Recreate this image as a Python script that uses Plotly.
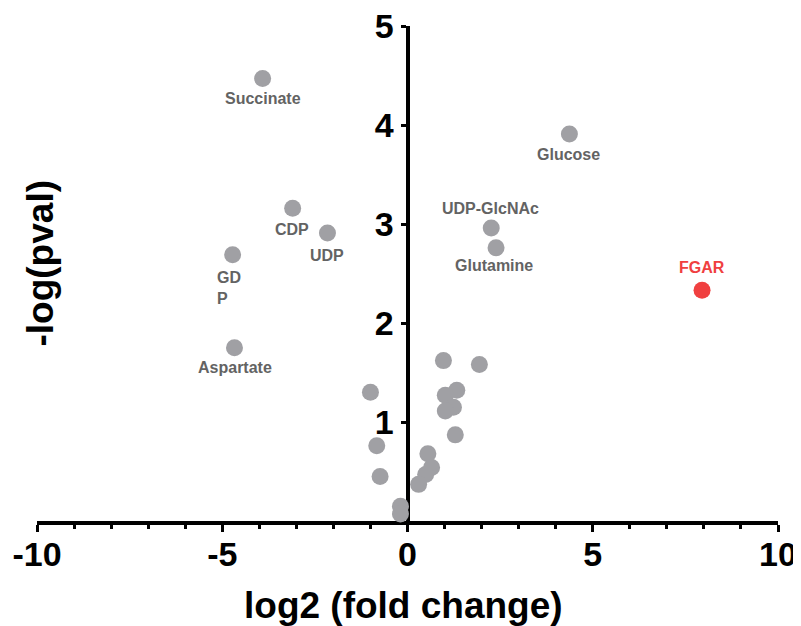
import plotly.graph_objects as go

# ---- data ----
label_names = ["Succinate", "Glucose", "CDP", "UDP", "GD<br>P",
               "UDP-GlcNAc", "Glutamine", "Aspartate", "FGAR"]
label_x = [-3.91, 4.37, -3.10, -2.16, -4.72, 2.26, 2.39, -4.67, 7.95]
label_y = [4.47, 3.91, 3.16, 2.91, 2.69, 2.96, 2.76, 1.75, 2.33]
highlight = ["FGAR"]

other_x = [-1.00, -0.83, -0.74, 0.97, 1.94, 1.33, 1.02, 1.24, 1.02, 1.29,
           0.55, 0.65, 0.49, 0.30, -0.19, -0.19]
other_y = [1.30, 0.76, 0.45, 1.62, 1.58, 1.32, 1.27, 1.15, 1.11, 0.87,
           0.68, 0.54, 0.47, 0.37, 0.15, 0.07]

x_tickvals = [-10, -5, 0, 5, 10]
x_ticktext = ["-10", "-5", "0", "5", "10"]
y_tickvals = [1, 2, 3, 4, 5]
y_ticktext = ["1", "2", "3", "4", "5"]

# ---- styling ----
FONT = "Arial, Liberation Sans, sans-serif"
GRAY = "#A0A0A4"
RED = "#F04040"
LABEL_GRAY = "#636363"

# label placement (pixel offsets relative to the point)
label_offsets = {
    "Succinate": (0, -20, "center"),
    "Glucose": (-1, -21, "center"),
    "CDP": (-1, -21, "center"),
    "UDP": (0, -23, "center"),
    "GD<br>P": (-18, -33, "left"),
    "UDP-GlcNAc": (-1, 19, "center"),
    "Glutamine": (-2, -18, "center"),
    "Aspartate": (1, -20, "center"),
    "FGAR": (0, 23, "center"),
}

fig = go.Figure()

all_x = other_x + [x for n, x in zip(label_names, label_x) if n not in highlight]
all_y = other_y + [y for n, y in zip(label_names, label_y) if n not in highlight]
fig.add_trace(go.Scatter(x=all_x, y=all_y, mode="markers",
                         marker=dict(size=17, color=GRAY, line=dict(width=0)),
                         cliponaxis=False, hoverinfo="skip"))
hx = [x for n, x in zip(label_names, label_x) if n in highlight]
hy = [y for n, y in zip(label_names, label_y) if n in highlight]
fig.add_trace(go.Scatter(x=hx, y=hy, mode="markers",
                         marker=dict(size=17, color=RED, line=dict(width=0)),
                         cliponaxis=False, hoverinfo="skip"))

annotations = []
for n, x, y in zip(label_names, label_x, label_y):
    xs, ys, xa = label_offsets[n]
    annotations.append(dict(
        x=x, y=y, xref="x", yref="y", text=n, showarrow=False,
        xanchor=xa, yanchor="middle", xshift=xs, yshift=ys, align="left",
        font=dict(family=FONT, size=16, weight="bold",
                  color=RED if n in highlight else LABEL_GRAY)))

# axis titles
annotations.append(dict(
    x=0.5, y=0, xref="paper", yref="paper", text="log2 (fold change)",
    showarrow=False, xanchor="center", yanchor="middle", yshift=-84, xshift=-4,
    font=dict(family=FONT, size=37, weight="bold", color="black")))
annotations.append(dict(
    x=0, y=0.5, xref="paper", yref="paper", text="-log(pval)", textangle=-90,
    showarrow=False, xanchor="center", yanchor="middle", xshift=3, yshift=10,
    font=dict(family=FONT, size=37, weight="bold", color="black")))

# the page body adds an 8px offset, so the figure is laid out 8px smaller
fig.update_layout(
    width=793, height=618,
    margin=dict(l=29, r=23, t=18, b=105, pad=0, autoexpand=False),
    paper_bgcolor="white", plot_bgcolor="white",
    showlegend=False,
    annotations=annotations,
    xaxis=dict(
        range=[-10, 10], domain=[0, 1], anchor="y", automargin=False,
        tickmode="array", tickvals=x_tickvals, ticktext=x_ticktext,
        ticks="outside", ticklen=7, tickwidth=3, tickcolor="black",
        minor=dict(ticks="outside", dtick=1, tick0=0, ticklen=4,
                   tickwidth=3, tickcolor="black", showgrid=False),
        showline=True, linewidth=4, linecolor="black",
        showgrid=False, zeroline=False, layer="below traces",
        ticklabeloverflow="allow", ticklabelstandoff=-7,
        tickfont=dict(family=FONT, size=34, weight="bold", color="black"),
    ),
    yaxis=dict(
        range=[0, 5], anchor="free", position=0.5, automargin=False,
        tickmode="array", tickvals=y_tickvals, ticktext=y_ticktext,
        ticks="outside", ticklen=5, tickwidth=3, tickcolor="black",
        showline=True, linewidth=4, linecolor="black",
        showgrid=False, zeroline=False, layer="below traces",
        ticklabeloverflow="allow",
        tickfont=dict(family=FONT, size=34, weight="bold", color="black"),
    ),
)

fig.write_html("out.html", config={"displayModeBar": False})
